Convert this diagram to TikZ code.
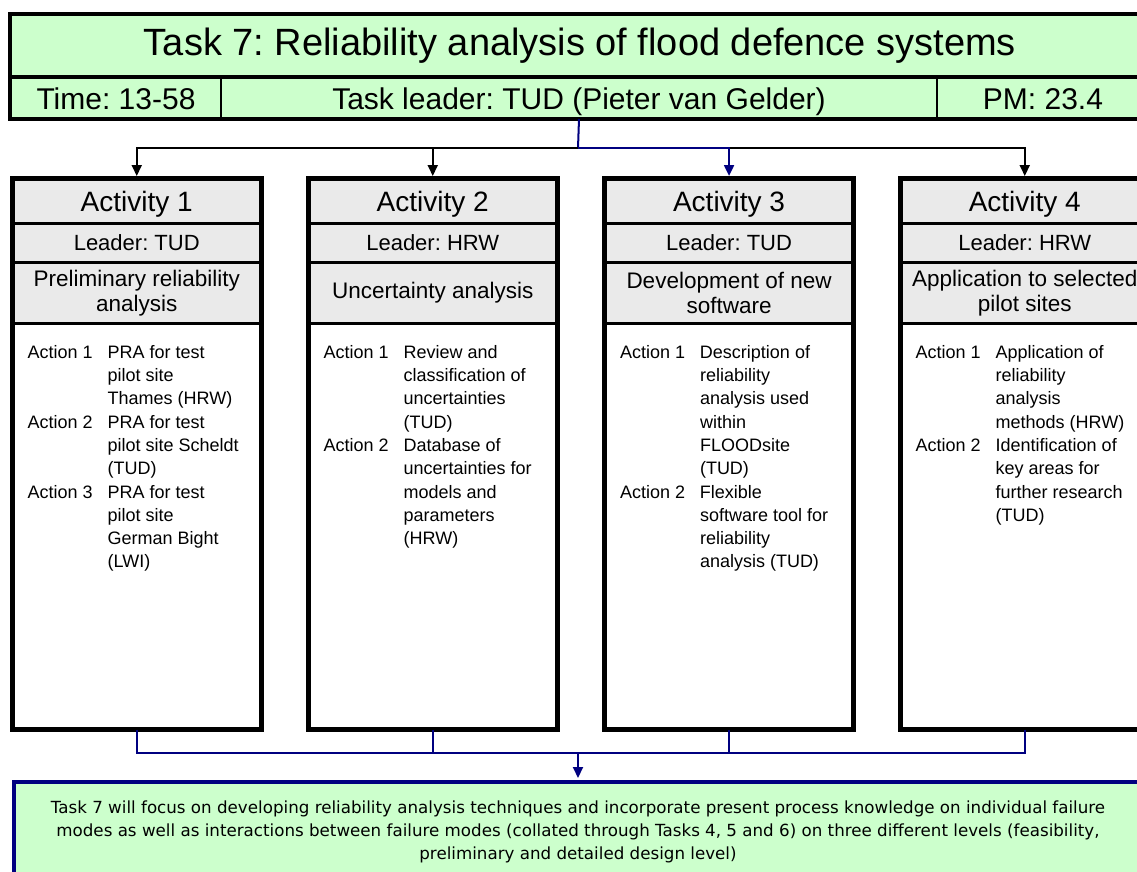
\documentclass[tikz,border=0pt]{standalone}
\usepackage{fontspec}
\setmainfont{Liberation Sans}
\newfontfamily\notefont{DejaVu Sans}
\usetikzlibrary{arrows.meta}
\frenchspacing

\definecolor{mint}{HTML}{CCFFCC}
\definecolor{panel}{HTML}{EAEAEA}
\definecolor{navy}{HTML}{000080}

\newcommand\fs[2]{\fontsize{#1}{#2}\selectfont}

% One activity column: number, left edge, leader, topic, action rows
\newcommand\activitybox[5]{%
  \node[pcell, minimum height=44pt, font=\fs{28}{32}, text depth=0pt] (act#1) at (#2,178) {Activity #1};
  \node[pcell, minimum height=39pt, font=\fs{22}{25}] (lead#1) at (#2,222) {Leader: #3};
  \node[pcell, minimum height=61pt, font=\fs{22.5}{25}] (topic#1) at (#2,261) {#4};
  \node[bcell] (body#1) at (#2,322) {};
  \draw[line width=4pt] (act#1.north west) rectangle (body#1.south east);
  \node[actions] (acts#1) at (#2+15.5,341.7)
    {\begin{tabular}{@{}p{80pt}@{}l@{}}#5\end{tabular}};
}

\begin{document}
\begin{tikzpicture}[x=1pt,y=-1pt,
  hcell/.style={draw, line width=2pt, fill=mint, inner sep=0pt, anchor=north west,
    minimum height=41.5pt, font=\fs{30}{34}, text height=25pt, text depth=0pt},
  pcell/.style={draw, line width=2.5pt, fill=panel, inner sep=0pt, anchor=north west,
    minimum width=247pt, align=center},
  bcell/.style={draw, line width=2.5pt, fill=white, inner sep=0pt, anchor=north west,
    minimum width=247pt, minimum height=405pt},
  actions/.style={inner sep=0pt, anchor=north west, font=\fs{18}{23.3}, align=left},
  link/.style={line width=2pt},
  blackline/.style={link, draw=black},
  navyline/.style={link, draw=navy},
  tip/.style={-{Triangle[width=10pt,length=11pt]}, shorten >=2pt},
]
\path[use as bounding box] (0,0) rectangle (1137,872);
\clip (0,0) rectangle (1137,872);
\fill[white] (0,0) rectangle (1137,872);

% Task header
\node[hcell, minimum width=1138pt, minimum height=61.5pt, font=\fs{38}{44},
  text height=27pt, text depth=8pt] (title) at (10,14)
  {Task 7: Reliability analysis of flood defence systems};
\node[hcell, minimum width=210pt] (time) at (10,75.5) {Time: 13-58};
\node[hcell, minimum width=716pt] (leader) at (220,75.5) {Task leader: TUD (Pieter van Gelder)};
\node[hcell, minimum width=212pt] (pm) at (936,75.5) {PM: 23.4};
\draw[line width=3pt] (title.south west) -- (title.south east);
\draw[line width=3.5pt] (title.north west) rectangle (pm.south east);

% Activities
\activitybox{1}{12}{TUD}{Preliminary reliability\\analysis}{%
  Action 1 & PRA for test\\ & pilot site\\ & Thames (HRW)\\
  Action 2 & PRA for test\\ & pilot site Scheldt\\ & (TUD)\\
  Action 3 & PRA for test\\ & pilot site\\ & German Bight\\ & (LWI)}
\activitybox{2}{308}{HRW}{Uncertainty analysis}{%
  Action 1 & Review and\\ & classification of\\ & uncertainties\\ & (TUD)\\
  Action 2 & Database of\\ & uncertainties for\\ & models and\\ & parameters\\ & (HRW)}
\activitybox{3}{604.3}{TUD}{Development of new\\software}{%
  Action 1 & Description of\\ & reliability\\ & analysis used\\ & within\\ & FLOODsite\\ & (TUD)\\
  Action 2 & Flexible\\ & software tool for\\ & reliability\\ & analysis (TUD)}
\activitybox{4}{900}{HRW}{Application to selected\\pilot sites}{%
  Action 1 & Application of\\ & reliability\\ & analysis\\ & methods (HRW)\\
  Action 2 & Identification of\\ & key areas for\\ & further research\\ & (TUD)}

% Summary box
\node[draw=navy, line width=4pt, fill=mint, inner sep=0pt, anchor=north west,
  minimum width=1140pt, minimum height=120pt] (summary) at (11.5,780) {};
\node[font={\notefont\fs{16.7}{23}}, align=center, inner sep=0pt] (note) at (578,832)
  {Task 7 will focus on developing reliability analysis techniques and incorporate present process knowledge on individual failure\\
   modes as well as interactions between failure modes (collated through Tasks 4, 5 and 6) on three different levels (feasibility,\\
   preliminary and detailed design level)};

% Distribution from the task header to the activities
\coordinate (split) at (578,148);
\draw[navyline] (leader.south) -- (split);
\draw[blackline, tip] (split) -| (act4.north);
\draw[blackline, tip] (split) -| (act1.north);
\draw[blackline, tip] (split) -| (act2.north);
\draw[navyline, tip] (split) -| (act3.north);

% Collection from the activities to the summary
\coordinate (merge) at (578,753);
\draw[navyline] (body1.south) |- (merge);
\draw[navyline] (body2.south) |- (merge);
\draw[navyline] (body3.south) |- (merge);
\draw[navyline] (body4.south) |- (merge);
\draw[navyline, tip] (merge) -- (merge |- summary.north);
\end{tikzpicture}
\end{document}
